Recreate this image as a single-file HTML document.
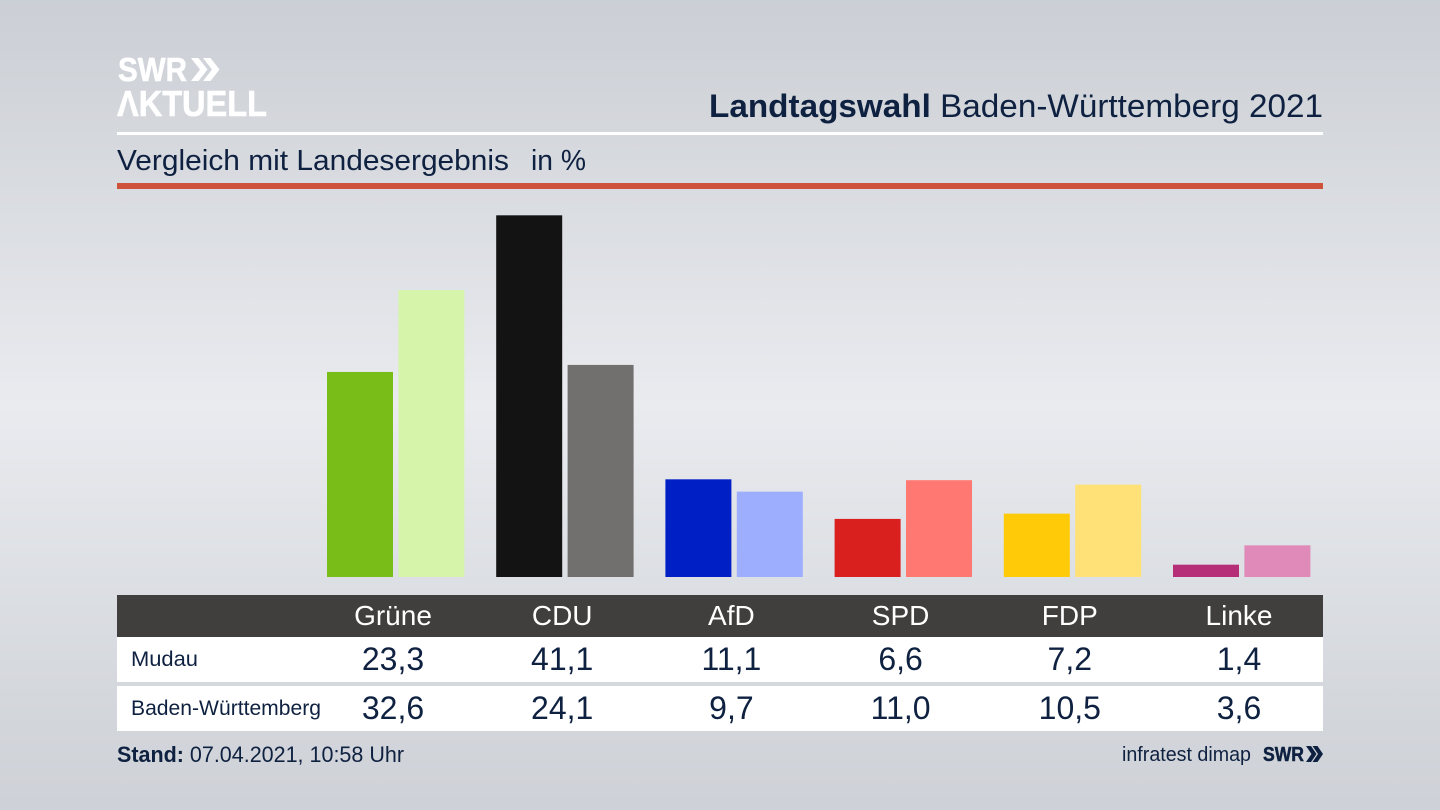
<!DOCTYPE html>
<html lang="de">
<head>
<meta charset="utf-8">
<title>Landtagswahl Baden-Württemberg 2021</title>
<style>
html,body{margin:0;padding:0;width:1440px;height:810px;overflow:hidden;background:#d5d8de}
svg{display:block}
text{font-family:"Liberation Sans",sans-serif;fill:#0f2140}
</style>
</head>
<body>
<svg id="chart" xmlns="http://www.w3.org/2000/svg" width="1440" height="810" viewBox="0 0 1440 810">
  <defs>
    <linearGradient id="bgGrad" x1="0" y1="0" x2="0" y2="1">
      <stop offset="0" stop-color="#cbcfd6"/>
      <stop offset="0.12" stop-color="#d2d5da"/>
      <stop offset="0.5" stop-color="#e9ebef"/>
      <stop offset="0.88" stop-color="#d3d6db"/>
      <stop offset="1" stop-color="#ced1d7"/>
    </linearGradient>
  </defs>
  <rect x="0" y="0" width="1440" height="810" fill="url(#bgGrad)"/>

  <g>
    <text x="118" y="81" font-size="33" font-weight="700" textLength="69" lengthAdjust="spacingAndGlyphs" style="fill:#fff;stroke:#fff;stroke-width:0.6">SWR</text>
    <path d="M191 58h7.500l9 11.500-9 11.500h-7.500l9-11.500zM203 58h7.500l9 11.500-9 11.500h-7.500l9-11.500z" fill="#fff"/>
    <text x="117" y="116" font-size="36" font-weight="700" textLength="150" lengthAdjust="spacingAndGlyphs" style="fill:#fff;stroke:#fff;stroke-width:0.6">&#923;KTUELL</text>
  </g>

  <text x="709" y="117" font-size="32" textLength="614" lengthAdjust="spacingAndGlyphs"><tspan font-weight="700">Landtagswahl</tspan> Baden-Württemberg 2021</text>
  <rect x="117" y="132" width="1206" height="3" fill="#ffffff"/>
  <text x="117" y="170" font-size="29" textLength="392" lengthAdjust="spacingAndGlyphs">Vergleich mit Landesergebnis</text>
  <text x="531" y="170" font-size="29" textLength="55" lengthAdjust="spacingAndGlyphs">in %</text>
  <rect x="117" y="183" width="1206" height="6" fill="#cd5239"/>

  <g id="bars"></g>

  <rect x="117" y="595" width="1206" height="42" fill="#403f3e"/>
  <rect x="117" y="637" width="1206" height="45" fill="#ffffff"/>
  <rect x="117" y="686" width="1206" height="45" fill="#ffffff"/>
  <text x="131" y="666" font-size="21" textLength="67" lengthAdjust="spacingAndGlyphs">Mudau</text>
  <text x="131" y="715" font-size="21" textLength="190" lengthAdjust="spacingAndGlyphs">Baden-Württemberg</text>
  <g id="table"></g>

  <text x="117" y="762" font-size="22" textLength="287" lengthAdjust="spacingAndGlyphs"><tspan font-weight="700">Stand:</tspan> 07.04.2021, 10:58 Uhr</text>
  <text x="1122" y="761" font-size="20" textLength="129" lengthAdjust="spacingAndGlyphs">infratest dimap</text>
  <text x="1263" y="761" font-size="20" font-weight="700" textLength="41" lengthAdjust="spacingAndGlyphs" style="stroke:#0f2140;stroke-width:0.5">SWR</text>
  <path d="M1306 746h5l5.500 8-5.500 8h-5l5.500-8zM1312.500 746h5l5.500 8-5.500 8h-5l5.500-8z" fill="#0f2140"/>
</svg>
<script>
const parties = ["Grüne", "CDU", "AfD", "SPD", "FDP", "Linke"];
const mudauValues = [23.3, 41.1, 11.1, 6.6, 7.2, 1.4];
const landValues = [32.6, 24.1, 9.7, 11.0, 10.5, 3.6];
const mudauColors = ["#78bd18", "#131313", "#001fc4", "#d9201f", "#ffcb08", "#b62e78"];
const landColors = ["#d6f5ab", "#72706e", "#9eaeff", "#ff7872", "#ffe177", "#df8ab8"];

const svgNS = "http://www.w3.org/2000/svg";
const barsGroup = document.getElementById("bars");
const tableGroup = document.getElementById("table");

function xCenter(i) { return 393 + i * 169.2; }
function yValue(v) { return 577 - v * 8.8; }
function formatValue(v) { return v.toFixed(1).replace(".", ","); }

function drawBar(x, value, color, name) {
  const r = document.createElementNS(svgNS, "rect");
  r.setAttribute("x", x);
  r.setAttribute("y", yValue(value));
  r.setAttribute("width", 66);
  r.setAttribute("height", 577 - yValue(value));
  r.setAttribute("fill", color);
  
  
  barsGroup.appendChild(r);
}

function drawCell(x, y, size, content, color, name) {
  const t = document.createElementNS(svgNS, "text");
  t.setAttribute("x", x);
  t.setAttribute("y", y);
  t.setAttribute("font-size", size);
  t.setAttribute("text-anchor", "middle");
  t.style.fill = color;
  t.textContent = content;
  
  
  tableGroup.appendChild(t);
}

parties.forEach(function (party, i) {
  const slug = party.toLowerCase().replace("ü", "ue");
  const c = xCenter(i);
  drawBar(c - 66, mudauValues[i], mudauColors[i], "bar-mudau-" + slug);
  drawBar(c + 5.4, landValues[i], landColors[i], "bar-land-" + slug);
  drawCell(c, 625, 28, party, "#ffffff", "header-" + slug);
  drawCell(c, 670, 32, formatValue(mudauValues[i]), "#0f2140", "value-mudau-" + slug);
  drawCell(c, 719, 32, formatValue(landValues[i]), "#0f2140", "value-land-" + slug);
});
</script>
</body>
</html>
